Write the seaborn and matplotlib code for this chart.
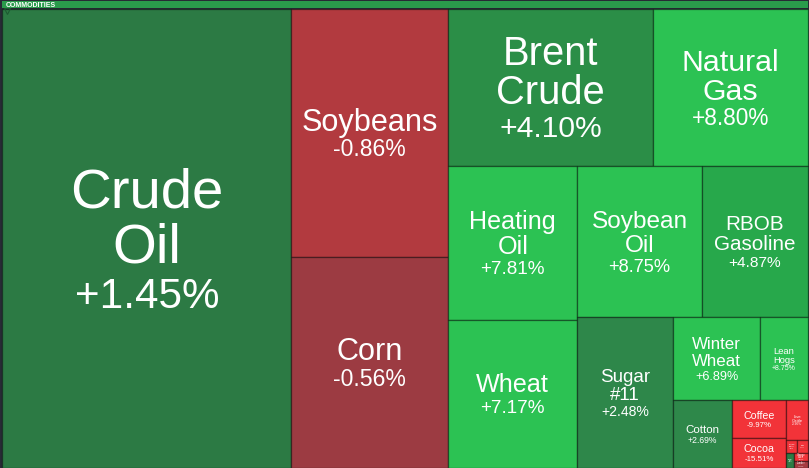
"""
Commodities heatmap - squarified treemap of daily futures moves
"""
import numpy as np
import matplotlib
matplotlib.use("Agg")
import matplotlib.pyplot as plt
from matplotlib.patches import Rectangle
from matplotlib.colors import to_rgb
import seaborn as sns

# Data (weights, changes in %)
GROUP = "COMMODITIES"
names = [
    "Crude Oil", "Soybeans", "Corn", "Brent Crude", "Natural Gas",
    "Heating Oil", "Wheat", "Soybean Oil", "RBOB Gasoline", "Sugar #11",
    "Winter Wheat", "Lean Hogs", "Cotton", "Coffee", "Cocoa",
    "Live Cattle", "Feeder Cattle", "Oats", "Rough Rice", "Orange Juice", "Lumber",
]
weights = [
    132651, 38936, 33127, 32185, 24335,
    19866, 19092, 18875, 16006, 14496,
    7221, 4000, 3990, 2052, 1620,
    858, 143, 137, 120, 112, 90,
]
changes = [
    1.45, -0.86, -0.56, 4.10, 8.80,
    7.81, 7.17, 8.75, 4.87, 2.48,
    6.89, 8.75, 2.69, -9.97, -15.51,
    -3.90, -4.60, -5.20, 1.60, -3.40, -0.70,
]

# colour scale for the % change
stop_vals = [-6.0, -3.0, -0.86, -0.56, 0.0, 1.45, 2.5, 4.1, 4.9, 6.5]
stop_cols = ["#f23339", "#f23339", "#b23a3f", "#9c3b42", "#4a4e5a",
             "#2c7a44", "#2e874a", "#2b8e47", "#27a94b", "#2cc253"]


def change_color(v):
    rgb = np.array([to_rgb(c) for c in stop_cols])
    return tuple(np.interp(v, stop_vals, rgb[:, k]) for k in range(3))


def worst(row, side):
    s = sum(row)
    return max(max(side * side * r / (s * s), s * s / (side * side * r)) for r in row)


def squarify(vals, x, y, w, h):
    """Bruls et al. squarified layout, rows placed from the top-left"""
    rects = []
    vals = list(vals)
    while vals:
        side = min(w, h)
        i = 1
        while i < len(vals) and worst(vals[:i + 1], side) <= worst(vals[:i], side):
            i += 1
        row, vals = vals[:i], vals[i:]
        s = sum(row)
        if w >= h:
            cw = s / h
            yy = y
            for r in row:
                rects.append((x, yy, cw, r / cw))
                yy += r / cw
            x += cw
            w -= cw
        else:
            ch = s / w
            xx = x
            for r in row:
                rects.append((xx, y, r / ch, ch))
                xx += r / ch
            y += ch
            h -= ch
    return rects


sns.set_theme(style="white")
plt.rcParams["font.family"] = ["Liberation Sans", "DejaVu Sans"]

W, H = 809, 468
X0, X1, Y0, Y1 = 2.5, 808, 9, 468

fig = plt.figure(figsize=(W / 100, H / 100), dpi=100, facecolor="#272b35")
ax = fig.add_axes([0, 0, 1, 1])
ax.set_facecolor("#272b35")
ax.set_xlim(0, W)
ax.set_ylim(H, 0)
ax.axis("off")

# group header
ax.add_patch(Rectangle((X0, 1), X1 - X0, 7.3, facecolor="#2a9b4b", edgecolor="none"))
ax.text(X0 + 3.5, 6.9, GROUP, fontsize=5, fontweight="bold", color="white",
        ha="left", va="baseline")
ax.plot([7], [10.5], marker="v", ms=4.5, mfc="none", mec="#1d5a31", mew=0.8)

scale = (X1 - X0) * (Y1 - Y0) / sum(weights)
rects = squarify([v * scale for v in weights], X0, Y0, X1 - X0, Y1 - Y0)

for (x, y, w, h), name, chg in zip(rects, names, changes):
    ax.add_patch(Rectangle((x, y), w, h, facecolor=change_color(chg),
                           edgecolor=(0, 0, 0, 0.35), lw=1))
    em = 0.195 * w
    lines = name.split(" ")
    hn, hp = 0.97 * em, 0.85 * em
    top = y + h / 2 - (len(lines) * hn + hp) / 2
    for i, ln in enumerate(lines):
        yc = top + hn * (i + 0.5)
        ax.text(x + w / 2, yc + 0.358 * em, ln, fontsize=em * 0.72,
                color="white", ha="center", va="baseline")
    yc = top + len(lines) * hn + hp / 2
    ax.text(x + w / 2, yc + 0.358 * 0.75 * em, f"{chg:+.2f}%",
            fontsize=0.75 * em * 0.72, color="white", ha="center", va="baseline")

fig.savefig("out.png", dpi=100, facecolor=fig.get_facecolor())
plt.close("all")
